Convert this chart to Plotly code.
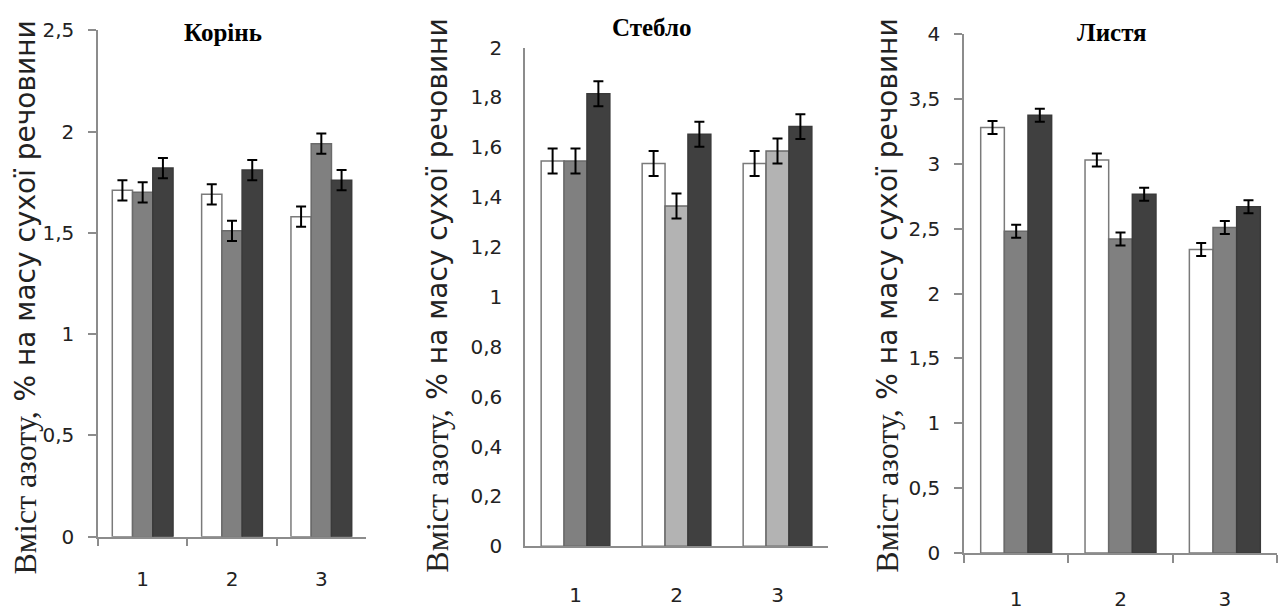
import plotly.graph_objects as go

W, H = 1279, 615

categories = ["1", "2", "3"]

# Корінь (root)
root_s1 = [1.71, 1.69, 1.58]
root_s2 = [1.70, 1.51, 1.94]
root_s3 = [1.82, 1.81, 1.76]
root_err = [0.05, 0.05, 0.05]

# Стебло (stem)
stem_s1 = [1.545, 1.535, 1.535]
stem_s2 = [1.545, 1.365, 1.585]
stem_s3 = [1.815, 1.652, 1.683]
stem_err = [0.05, 0.05, 0.05]

# Листя (leaves)
leaf_s1 = [3.28, 3.03, 2.34]
leaf_s2 = [2.48, 2.42, 2.51]
leaf_s3 = [3.375, 2.765, 2.67]
leaf_err = [0.05, 0.05, 0.05]

titles = ["Корінь", "Стебло", "Листя"]
y_title_serif = "Вміст азоту,"
y_title_sans = "% на масу сухої речовини"

C_WHITE = "#ffffff"
C_GREY = "#808080"
C_LIGHT = "#b3b3b3"
C_DARK = "#404040"
C_AXIS = "#8c8c8c"

fig = go.Figure()

def add_panel(idx, s1, s2, s3, err, s2_colors):
    xa = "x" if idx == 1 else f"x{idx}"
    ya = "y" if idx == 1 else f"y{idx}"
    specs = [
        (s1, C_WHITE, "#7a7a7a"),
        (s2, s2_colors, "#6a6a6a"),
        (s3, C_DARK, "#3a3a3a"),
    ]
    for k, (vals, col, lc) in enumerate(specs):
        fig.add_trace(go.Bar(
            x=categories, y=vals, xaxis=xa, yaxis=ya,
            name=f"{titles[idx-1]} {k+1}",
            marker=dict(color=col, line=dict(color=lc, width=1.5)),
            error_y=dict(type="data", array=err, visible=True,
                         color="#000000", thickness=2, width=5),
            showlegend=False,
        ))

add_panel(1, root_s1, root_s2, root_s3, root_err, C_GREY)
add_panel(2, stem_s1, stem_s2, stem_s3, stem_err, [C_GREY, C_LIGHT, C_LIGHT])
add_panel(3, leaf_s1, leaf_s2, leaf_s3, leaf_err, C_GREY)

tickfont = dict(family="DejaVu Sans", size=20, color="#222222")

def px_x(p):
    return p / W

def px_y(p):
    return 1 - p / H

panels = [
    # x0, x1, y_zero, y_top, ymax, dtick, ticks, x-label standoff
    (98, 366, 546, 19, 2.5, 0.5, True, 24),
    (525, 828, 556, 37, 2.0, 0.2, False, 30),
    (964, 1277, 563, 23, 4.0, 0.5, True, 27),
]

layout_axes = {}
for i, (x0, x1, y0, y1, ymax, dt, ticks, xso) in enumerate(panels, start=1):
    suffix = "" if i == 1 else str(i)
    layout_axes[f"xaxis{suffix}"] = dict(
        domain=[px_x(x0), px_x(x1)], anchor=f"y{suffix}",
        type="category", range=[-0.5, 2.5],
        showline=True, linecolor=C_AXIS, linewidth=1.5,
        ticks="outside" if ticks else "", tickson="boundaries",
        ticklen=8, tickcolor=C_AXIS, tickwidth=1.5,
        showgrid=False, zeroline=False, fixedrange=True,
        tickfont=tickfont, ticklabelstandoff=xso,
    )
    layout_axes[f"yaxis{suffix}"] = dict(
        domain=[px_y(y0), px_y(y1)], anchor=f"x{suffix}",
        range=[0, ymax], dtick=dt, tick0=0,
        showline=True, linecolor=C_AXIS, linewidth=1.5,
        ticks="outside" if ticks else "", ticklen=8,
        tickcolor=C_AXIS, tickwidth=1.5,
        showgrid=False, zeroline=False, fixedrange=True,
        tickfont=tickfont, ticklabelstandoff=10 if ticks else 17,
    )

annotations = []
title_pos = [(223, 21), (652, 16), (1112, 21)]
for t, (x, y) in zip(titles, title_pos):
    annotations.append(dict(
        text=f"<b>{t}</b>", x=px_x(x), y=px_y(y), xref="paper", yref="paper",
        xanchor="center", yanchor="middle", showarrow=False,
        font=dict(family="Liberation Serif", size=25, color="#000000"),
    ))

# rotated y titles: serif part at the bottom, sans part above it
SERIF_SIZE = 32
SANS_SIZE = 28
ytitle_pos = [(25, 588, 408), (437, 586, 406), (887, 586, 406)]
for x, ybot, ysans in ytitle_pos:
    annotations.append(dict(
        text=y_title_serif, x=px_x(x), y=px_y(ybot), xref="paper", yref="paper",
        xanchor="center", yanchor="bottom", showarrow=False, textangle=-90,
        font=dict(family="Liberation Serif", size=SERIF_SIZE, color="#222222"),
    ))
    annotations.append(dict(
        text=y_title_sans, x=px_x(x + 1), y=px_y(ysans),
        xref="paper", yref="paper",
        xanchor="center", yanchor="bottom", showarrow=False, textangle=-90,
        font=dict(family="DejaVu Sans", size=SANS_SIZE, color="#222222"),
    ))

fig.update_layout(
    width=W, height=H,
    margin=dict(l=0, r=0, t=0, b=0),
    paper_bgcolor="white", plot_bgcolor="white",
    barmode="group", bargap=0.32, bargroupgap=0,
    separators=", ",
    annotations=annotations,
    **layout_axes,
)

fig.write_html("out.html", config={"displayModeBar": False})
